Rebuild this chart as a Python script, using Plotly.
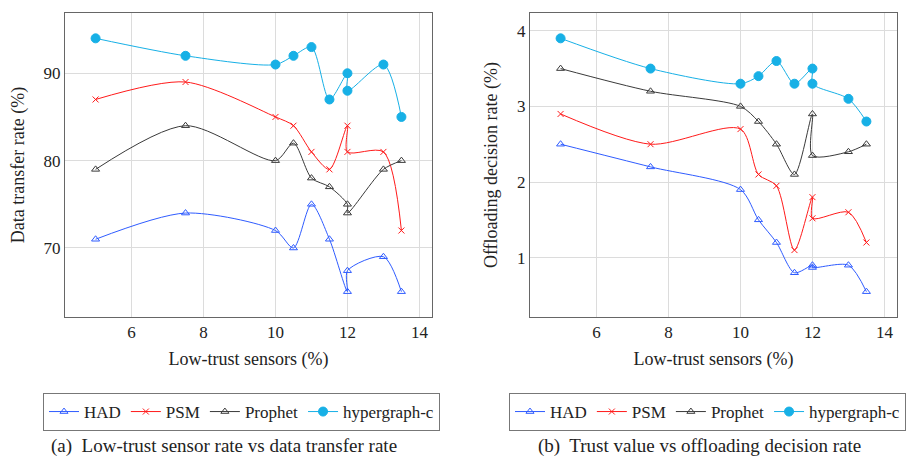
import plotly.graph_objects as go

# ---- data ----
x_vals = [5, 7.5, 10, 10.5, 11, 11.5, 12, 12, 13, 13.5]

a_had = [71, 74, 72, 70, 75, 71, 65, 67.4, 69, 65]
a_psm = [87, 89, 85, 84, 81, 79, 84, 81, 81, 72]
a_prophet = [79, 84, 80, 82, 78, 77, 75, 74, 79, 80]
a_hyper = [94, 92, 91, 92, 93, 87, 90, 88, 91, 85]

b_had = [2.5, 2.2, 1.9, 1.5, 1.2, 0.8, 0.9, 0.87, 0.9, 0.55]
b_psm = [2.9, 2.5, 2.7, 2.1, 1.95, 1.1, 1.8, 1.52, 1.6, 1.2]
b_prophet = [3.5, 3.2, 3.0, 2.8, 2.5, 2.1, 2.9, 2.35, 2.4, 2.5]
b_hyper = [3.9, 3.5, 3.3, 3.4, 3.6, 3.3, 3.5, 3.3, 3.1, 2.8]

names = ["HAD", "PSM", "Prophet", "hypergraph-c"]
x_ticks = [6, 8, 10, 12, 14]
a_ticks = [70, 80, 90]
b_ticks = [1, 2, 3, 4]

xlabel = "Low-trust sensors (%)"
ylabel_a = "Data transfer rate (%)"
ylabel_b = "Offloading decision rate (%)"
caption_a = "(a)  Low-trust sensor rate vs data transfer rate"
caption_b = "(b)  Trust value vs offloading decision rate"

# ---- styles ----
styles = [
    dict(color="#2f5cff", symbol="triangle-up-open", size=7),
    dict(color="#ff1a1a", symbol="x-thin-open", size=6),
    dict(color="#3a3a3a", symbol="triangle-up-open", size=7),
    dict(color="#17b0e6", symbol="circle", size=9),
]

FONT = "Liberation Serif"

fig = go.Figure()

for series_set, xa, ya, leg in [
    ([a_had, a_psm, a_prophet, a_hyper], "x", "y", "legend"),
    ([b_had, b_psm, b_prophet, b_hyper], "x2", "y2", "legend2"),
]:
    for name, ys, st in zip(names, series_set, styles):
        fig.add_trace(go.Scatter(
            x=x_vals, y=ys, name=name, mode="lines+markers",
            line=dict(color=st["color"], width=1, shape="spline", smoothing=0.8),
            marker=dict(symbol=st["symbol"], size=st["size"], color=st["color"],
                        line=dict(color=st["color"], width=1)),
            xaxis=xa, yaxis=ya, legend=leg,
        ))

W, H = 909, 457
ax_common = dict(
    showgrid=True, gridcolor="#dcdcdc", gridwidth=1,
    showline=True, linecolor="#666666", linewidth=1, mirror=True,
    zeroline=False, ticks="",
    tickfont=dict(family=FONT, size=17, color="#222"),
)

fig.update_layout(
    width=W, height=H,
    margin=dict(l=0, r=0, t=0, b=0),
    paper_bgcolor="white", plot_bgcolor="white",
    font=dict(family=FONT, color="#222"),
    xaxis=dict(domain=[65 / W, 432 / W], range=[4.15, 14.35], tickvals=x_ticks,
               anchor="y",
               title=dict(text=xlabel, font=dict(family=FONT, size=18), standoff=10),
               **ax_common),
    yaxis=dict(domain=[1 - 317 / H, 1 - 13 / H], range=[62.1, 96.9], tickvals=a_ticks,
               anchor="x",
               title=dict(text=ylabel_a, font=dict(family=FONT, size=18), standoff=14),
               **ax_common),
    xaxis2=dict(domain=[530 / W, 897 / W], range=[4.15, 14.35], tickvals=x_ticks,
                anchor="y2",
                title=dict(text=xlabel, font=dict(family=FONT, size=18), standoff=10),
                **ax_common),
    yaxis2=dict(domain=[1 - 317 / H, 1 - 13 / H], range=[0.215, 4.235], tickvals=b_ticks,
                anchor="x2",
                title=dict(text=ylabel_b, font=dict(family=FONT, size=18), standoff=14),
                **ax_common),
    legend=dict(orientation="h", x=43 / W, y=1 - 393 / H, xanchor="left", yanchor="top",
                bordercolor="#777", borderwidth=1, font=dict(family=FONT, size=17),
                itemwidth=30, tracegroupgap=0, bgcolor="white"),
    legend2=dict(orientation="h", x=509 / W, y=1 - 393 / H, xanchor="left", yanchor="top",
                 bordercolor="#777", borderwidth=1, font=dict(family=FONT, size=17),
                 itemwidth=30, tracegroupgap=0, bgcolor="white"),
    annotations=[
        dict(text=caption_a, x=224 / W, y=1 - 446 / H, xref="paper", yref="paper",
             showarrow=False, font=dict(family=FONT, size=19), xanchor="center", yanchor="middle"),
        dict(text=caption_b, x=699 / W, y=1 - 446 / H, xref="paper", yref="paper",
             showarrow=False, font=dict(family=FONT, size=19), xanchor="center", yanchor="middle"),
    ],
)

fig.write_html("out.html")
